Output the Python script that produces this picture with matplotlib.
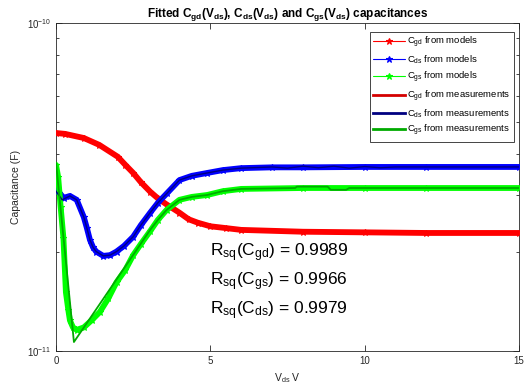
import matplotlib
matplotlib.use('Agg')
import matplotlib.pyplot as plt
from matplotlib.ticker import NullFormatter

plt.rcParams['font.family'] = ['Liberation Sans', 'DejaVu Sans']
plt.rcParams['mathtext.default'] = 'regular'

# model curves
v_gd = [0, 0.3, 0.9, 1.4, 2.0, 2.25, 2.5, 2.75, 3.05, 3.3, 3.6, 4.0, 4.3, 4.6, 5.0, 5.5,
        6.0, 8.0, 10.0, 12.0, 15.0]
c_gd = [4.62e-11, 4.59e-11, 4.46e-11, 4.25e-11, 3.91e-11, 3.69e-11, 3.49e-11, 3.27e-11,
        3.06e-11, 2.92e-11, 2.79e-11, 2.64e-11, 2.52e-11, 2.46e-11, 2.40e-11, 2.37e-11,
        2.34e-11, 2.31e-11, 2.30e-11, 2.29e-11, 2.29e-11]

v_ds = [0, 0.1, 0.25, 0.45, 0.67, 0.9, 1.0, 1.1, 1.2, 1.3, 1.53, 1.75, 1.96, 2.2, 2.5,
        2.75, 3.05, 3.3, 3.6, 4.0, 4.4, 4.9, 5.4, 6.0, 7.0, 8.0, 10.0, 12.0, 15.0]
c_ds = [3.07e-11, 3.04e-11, 2.93e-11, 2.97e-11, 2.89e-11, 2.56e-11, 2.37e-11, 2.18e-11,
        2.07e-11, 2.01e-11, 1.95e-11, 1.96e-11, 2.01e-11, 2.09e-11, 2.23e-11, 2.42e-11,
        2.64e-11, 2.83e-11, 3.03e-11, 3.32e-11, 3.42e-11, 3.49e-11, 3.56e-11, 3.61e-11,
        3.63e-11, 3.63e-11, 3.64e-11, 3.64e-11, 3.64e-11]

v_gs = [0, 0.07, 0.15, 0.24, 0.32, 0.4, 0.45, 0.55, 0.67, 0.9, 1.15, 1.42, 1.7, 1.96,
        2.25, 2.5, 2.75, 3.05, 3.3, 3.58, 4.0, 4.4, 4.9, 5.4, 6.0, 8.0, 10.0, 12.0, 15.0]
c_gs = [3.69e-11, 3.39e-11, 2.75e-11, 2.21e-11, 1.51e-11, 1.33e-11, 1.24e-11, 1.18e-11,
        1.16e-11, 1.18e-11, 1.24e-11, 1.315e-11, 1.45e-11, 1.62e-11, 1.77e-11, 1.96e-11,
        2.12e-11, 2.32e-11, 2.51e-11, 2.69e-11, 2.89e-11, 2.95e-11, 2.99e-11, 3.07e-11,
        3.12e-11, 3.14e-11, 3.14e-11, 3.14e-11, 3.14e-11]

# measurements
vm_gd = [0, 0.9, 1.4, 2.0, 2.5, 3.05, 3.6, 4.0, 4.3, 5.0, 6.0, 8.0, 10.0, 15.0]
cm_gd = [4.62e-11, 4.46e-11, 4.25e-11, 3.91e-11, 3.49e-11, 3.06e-11, 2.79e-11, 2.64e-11,
         2.51e-11, 2.40e-11, 2.34e-11, 2.31e-11, 2.30e-11, 2.29e-11]

vm_ds = [0, 0.2, 0.45, 0.67, 0.9, 1.0, 1.1, 1.2, 1.3, 1.53, 1.75, 1.96, 2.2, 2.5, 2.75,
         3.05, 3.3, 3.6, 4.0, 4.4, 4.9, 5.4, 6.0,
         7.0, 7.5, 8.0, 8.5, 9.0, 9.5, 10.0, 10.5, 11.0, 15.0]
cm_ds = [3.07e-11, 2.89e-11, 2.97e-11, 2.89e-11, 2.56e-11, 2.37e-11, 2.18e-11, 2.07e-11,
         2.01e-11, 1.95e-11, 1.96e-11, 2.01e-11, 2.09e-11, 2.23e-11, 2.42e-11,
         2.64e-11, 2.83e-11, 3.03e-11, 3.32e-11, 3.42e-11, 3.49e-11, 3.56e-11, 3.61e-11,
         3.64e-11, 3.61e-11, 3.66e-11, 3.62e-11, 3.66e-11, 3.61e-11, 3.65e-11, 3.62e-11,
         3.64e-11, 3.64e-11]

vm_gs = [0, 0.58, 3.05, 3.3, 3.58, 4.0, 4.4, 4.9, 5.4, 6.0, 7.75, 7.8, 8.8, 8.9, 9.4, 9.5, 15.0]
cm_gs = [3.75e-11, 1.065e-11, 2.34e-11, 2.51e-11, 2.69e-11, 2.89e-11, 2.95e-11, 2.99e-11,
         3.07e-11, 3.12e-11, 3.14e-11, 3.17e-11, 3.17e-11, 3.10e-11, 3.10e-11, 3.14e-11,
         3.14e-11]

r2_labels = ['gd', 'gs', 'ds']
r2_values = [0.9989, 0.9966, 0.9979]

fig = plt.figure(figsize=(5.27, 3.91), dpi=100)
ax = fig.add_axes([0.1063, 0.1023, 0.8785, 0.8389])

mk = dict(marker='*', markersize=5, markeredgewidth=0.8, lw=4.2,
          solid_capstyle='round', solid_joinstyle='round')
ax.plot(v_gd, c_gd, color='#ff0000', label='$C_{gd}$ from models', zorder=3, **mk)
ax.plot(v_ds, c_ds, color='#0000ff', label='$C_{ds}$ from models', zorder=3, **mk)
ax.plot(v_gs, c_gs, color='#00ff00', label='$C_{gs}$ from models', zorder=3, **mk)
ax.plot(vm_gd, cm_gd, color='#d40000', lw=1.5, label='$C_{gd}$ from measurements', zorder=2)
ax.plot(vm_ds, cm_ds, color='#000080', lw=1.0, label='$C_{ds}$ from measurements', zorder=4)
ax.plot(vm_gs, cm_gs, color='#00aa00', lw=1.3, label='$C_{gs}$ from measurements', zorder=4)

ax.set_yscale('log')
ax.set_xlim(0, 15)
ax.set_ylim(1e-11, 1e-10)
ax.set_xticks([0, 5, 10, 15])
ax.yaxis.set_minor_formatter(NullFormatter())
ax.tick_params(which='both', direction='in', top=True, right=True, labelsize=7,
               colors='#262626', width=0.6)
ax.tick_params(which='major', length=4)
ax.tick_params(which='minor', length=2.5)
for s in ax.spines.values():
    s.set_color('#262626')
    s.set_linewidth(0.6)

ax.set_title('Fitted $C_{gd}(V_{ds})$, $C_{ds}(V_{ds})$ and $C_{gs}(V_{ds})$ capacitances',
             fontsize=8.5, fontweight='bold', pad=4)
ax.set_xlabel('$V_{ds}$ V', fontsize=7.5, color='#262626')
ax.set_ylabel('Capacitance (F)', fontsize=7.5, color='#262626')

for i, (lab, val) in enumerate(zip(r2_labels, r2_values)):
    ax.text(0.332, 0.30 - i * 0.088, '$R_{sq}(C_{%s})$ = %.4f' % (lab, val),
            transform=ax.transAxes, fontsize=12.5, va='center', ha='left')

leg = ax.legend(loc='upper right', bbox_to_anchor=(0.9985, 0.988), fontsize=6.8,
                fancybox=False, edgecolor='#262626', framealpha=1, borderpad=0.35,
                labelspacing=0.38, handlelength=3.4, handletextpad=0.2)
leg.get_frame().set_linewidth(0.6)
for h in leg.legend_handles[:3]:
    h.set_linewidth(0.8)
for h in leg.legend_handles[3:]:
    h.set_linewidth(2.0)

fig.savefig('out.png', dpi=100)
